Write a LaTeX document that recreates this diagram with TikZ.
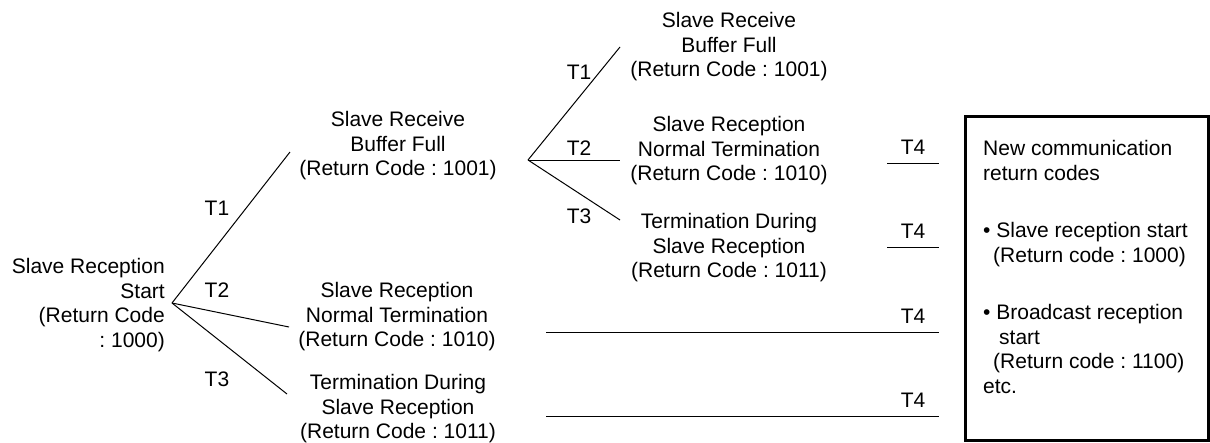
\documentclass[tikz,border=0pt]{standalone}
\usepackage{fontspec}
\setmainfont{Liberation Sans}
\frenchspacing
\begin{document}
\begin{tikzpicture}[x=1pt,y=-1pt,
  txt/.style={inner sep=0pt, align=center, font=\fontsize{21}{24.5}\selectfont},
  lbl/.style={inner sep=0pt, font=\fontsize{21}{24.5}\selectfont},
  conn/.style={line width=1pt},
  frame/.style={draw, line width=3pt, inner sep=0pt}]
\useasboundingbox (0,0) rectangle (1210,442);

% text nodes
\node[txt, align=right, anchor=east] (s) at (165,305) {Slave Reception\\Start\\(Return Code\\: 1000)};
\node[txt] (b1) at (398,146) {Slave Receive\\Buffer Full\\(Return Code : 1001)};
\node[txt] (b2) at (397,317) {Slave Reception\\Normal Termination\\(Return Code : 1010)};
\node[txt] (b3) at (398,409) {Termination During\\Slave Reception\\(Return Code : 1011)};
\node[txt] (c1) at (729,47) {Slave Receive\\Buffer Full\\(Return Code : 1001)};
\node[txt] (c2) at (729,151) {Slave Reception\\Normal Termination\\(Return Code : 1010)};
\node[txt] (c3) at (729,248) {Termination During\\Slave Reception\\(Return Code : 1011)};

% fork 1
\coordinate (f1) at (172,303);
\coordinate (e11) at (290,152);
\coordinate (e12) at (289,327);
\coordinate (e13) at (287,394);
\draw[conn] (f1) -- (e11);
\draw[conn] (f1) -- (e12);
\draw[conn] (f1) -- (e13);
\node[lbl] (l11) at (217,208) {T1};
\node[lbl] (l12) at (217,290) {T2};
\node[lbl] (l13) at (217,379) {T3};

% fork 2
\coordinate (f2) at (528,160);
\coordinate (e21) at (620,47);
\coordinate (e22) at (620,160);
\coordinate (e23) at (620,220);
\draw[conn] (f2) -- (e21);
\draw[conn] (f2) -- (e22);
\draw[conn] (f2) -- (e23);
\node[lbl] (l21) at (579,72) {T1};
\node[lbl] (l22) at (579,148) {T2};
\node[lbl] (l23) at (579,216) {T3};

% T4 lines
\coordinate (a1) at (887,163); \coordinate (z1) at (939,163);
\coordinate (a2) at (887,247); \coordinate (z2) at (939,247);
\coordinate (a3) at (546,332); \coordinate (z3) at (939,332);
\coordinate (a4) at (546,416); \coordinate (z4) at (939,416);
\draw[conn] (a1) -- (z1);
\draw[conn] (a2) -- (z2);
\draw[conn] (a3) -- (z3);
\draw[conn] (a4) -- (z4);
\node[lbl] (t41) at (913,147) {T4};
\node[lbl] (t42) at (913,231) {T4};
\node[lbl] (t43) at (913,316) {T4};
\node[lbl] (t44) at (913,400) {T4};

% box
\node[frame, minimum width=243.5pt, minimum height=323.5pt] (box) at (1086.75,278.25) {};
\node[txt, align=left, anchor=west] (boxtxt) at (983,267) {New communication\\return codes\\[33pt]%
• Slave reception start\\\hspace*{10pt}(Return code : 1000)\\[33pt]%
• Broadcast reception\\\hspace*{16pt}start\\\hspace*{10pt}(Return code : 1100)\\etc.};
\end{tikzpicture}
\end{document}
